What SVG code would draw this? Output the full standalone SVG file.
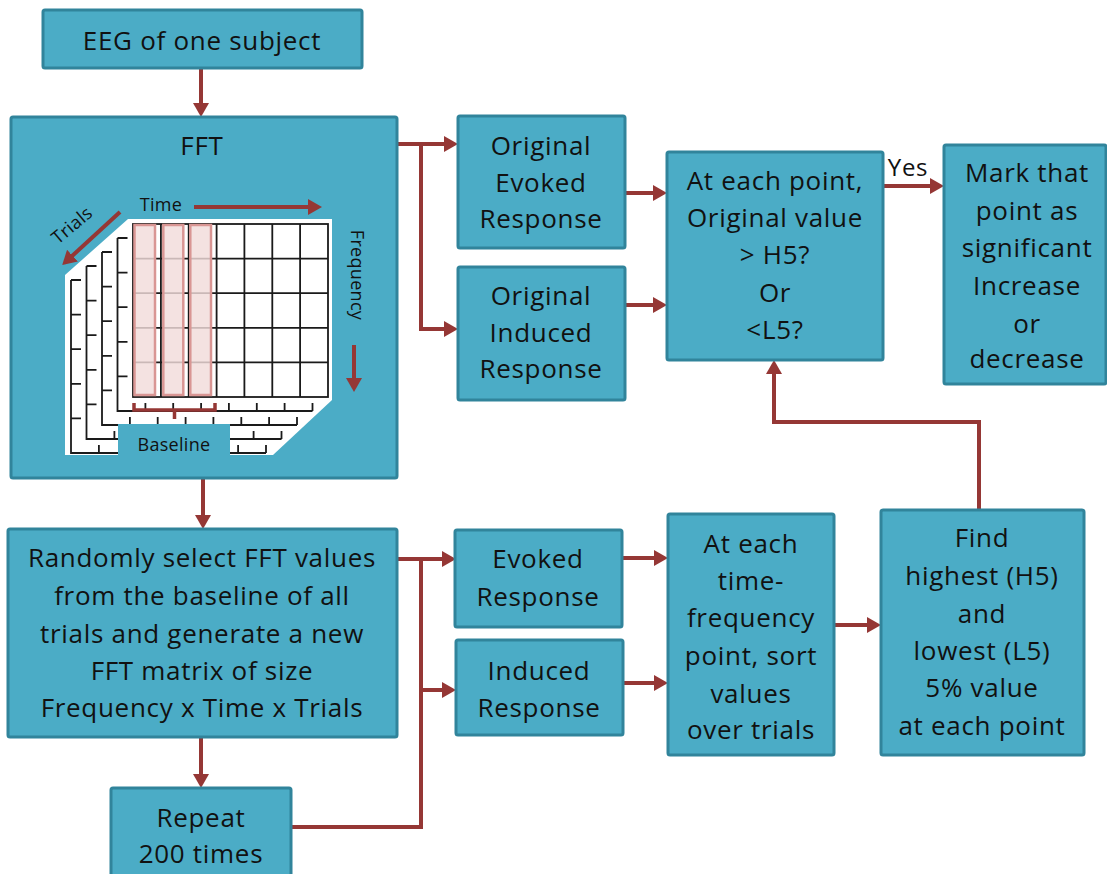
<svg xmlns="http://www.w3.org/2000/svg" width="1107" height="874" viewBox="0 0 1107 874">
  <style>
    .box { fill: #4BACC6; stroke: #31849B; stroke-width: 3; }
    .t { font-family: "Open Sans", Lato, "Liberation Sans", sans-serif; font-size: 26px; letter-spacing: 0.7px; fill: #111; text-anchor: middle; }
    .small { font-size: 18px; letter-spacing: 0.3px; }
    .conn { fill: none; stroke: #953735; stroke-width: 4; }
    .grid { fill: none; stroke: #1a1a1a; stroke-width: 1.8; }
    .pink { fill: #F2DCDB; fill-opacity: 0.82; stroke: #D99694; stroke-width: 2.5; }
  </style>
  <defs>
    <marker id="arrow" viewBox="0 0 14 16" refX="2" refY="8" markerWidth="14" markerHeight="16" markerUnits="userSpaceOnUse" orient="auto">
      <path d="M0,0 L14,8 L0,16 Z" fill="#953735"/>
    </marker>
  </defs>

  <rect width="1107" height="874" fill="#FFFFFF"/>

  <!-- connectors -->
  <g id="connectors">
    <path class="conn" d="M201,68 V105" marker-end="url(#arrow)"/>
    <path class="conn" d="M397,144 H446" marker-end="url(#arrow)"/>
    <path class="conn" d="M421,144 V329 H446" marker-end="url(#arrow)"/>
    <path class="conn" d="M625,193 H655" marker-end="url(#arrow)"/>
    <path class="conn" d="M625,305 H655" marker-end="url(#arrow)"/>
    <path class="conn" d="M883,186 H932" marker-end="url(#arrow)"/>
    <text class="t" x="908" y="176" style="font-size:24px">Yes</text>
    <path class="conn" d="M979,510 V422 H774 V372" marker-end="url(#arrow)"/>
    <path class="conn" d="M203,478 V517" marker-end="url(#arrow)"/>
    <path class="conn" d="M201,737 V776" marker-end="url(#arrow)"/>
    <path class="conn" d="M397,559 H444" marker-end="url(#arrow)"/>
    <path class="conn" d="M291,827 H421 V559"/>
    <path class="conn" d="M421,690 H444" marker-end="url(#arrow)"/>
    <path class="conn" d="M622,558 H656" marker-end="url(#arrow)"/>
    <path class="conn" d="M622,683 H656" marker-end="url(#arrow)"/>
    <path class="conn" d="M834,625 H869" marker-end="url(#arrow)"/>
  </g>

  <g id="eeg">
    <rect class="box" x="43" y="10" width="319" height="58" rx="2"/>
    <text class="t" x="202" y="50">EEG of one subject</text>
  </g>

  <g id="fft">
    <rect class="box" x="11" y="117" width="386" height="361" rx="2"/>
    <text class="t" x="202" y="155">FFT</text>
    <!-- white backdrop of the time-frequency stack -->
    <polygon points="128,219 332,219 332,400 273,455 65,455 65,275" fill="#FFFFFF"/>
    <!-- trial layers behind the front matrix -->
    <g class="grid">
      <path d="M71,280 V453 H266 M71,280 H81 M71,314.6 H81 M71,349.2 H81 M71,383.8 H81 M71,418.4 H81 M98.9,453 V445 M126.7,453 V445 M154.6,453 V445 M182.4,453 V445 M210.3,453 V445 M238.1,453 V445 M266,453 V445"/>
      <path d="M86.5,266 V439 H281.5 M86.5,266 H96.5 M86.5,300.6 H96.5 M86.5,335.2 H96.5 M86.5,369.8 H96.5 M86.5,404.4 H96.5 M114.4,439 V431 M142.2,439 V431 M170.1,439 V431 M197.9,439 V431 M225.8,439 V431 M253.6,439 V431 M281.5,439 V431"/>
      <path d="M102,252 V425 H297 M102,252 H112 M102,286.6 H112 M102,321.2 H112 M102,355.8 H112 M102,390.4 H112 M129.9,425 V417 M157.7,425 V417 M185.6,425 V417 M213.4,425 V417 M241.3,425 V417 M269.1,425 V417 M297,425 V417"/>
      <path d="M117.5,238 V411 H312.5 M117.5,238 H127.5 M117.5,272.6 H127.5 M117.5,307.2 H127.5 M117.5,341.8 H127.5 M117.5,376.4 H127.5 M145.4,411 V403 M173.2,411 V403 M201.1,411 V403 M228.9,411 V403 M256.8,411 V403 M284.6,411 V403 M312.5,411 V403"/>
    </g>
    <!-- front frequency x time matrix -->
    <rect x="133" y="224" width="195" height="173" fill="#FFFFFF"/>
    <g class="grid">
      <rect x="133" y="224" width="195" height="173"/>
      <path d="M160.9,224 V397 M188.7,224 V397 M216.6,224 V397 M244.4,224 V397 M272.3,224 V397 M300.1,224 V397"/>
      <path d="M133,258.6 H328 M133,293.2 H328 M133,327.8 H328 M133,362.4 H328"/>
    </g>
    <!-- baseline columns -->
    <rect class="pink" x="134.5" y="225" width="20.5" height="170"/>
    <rect class="pink" x="163.3" y="225" width="20" height="170"/>
    <rect class="pink" x="190.3" y="225" width="20.7" height="170"/>
    <path d="M134,403 V410 H215 V403 M174.5,410 V419" fill="none" stroke="#953735" stroke-width="3.5"/>
    <rect x="118" y="424" width="112" height="31" fill="#4BACC6"/>
    <text class="t small" x="174" y="451">Baseline</text>
    <!-- axis arrows -->
    <text class="t small" x="161" y="211">Time</text>
    <path class="conn" d="M194,207 H310" stroke-width="5" marker-end="url(#arrow)"/>
    <text class="t small" transform="translate(76,230) rotate(-40)">Trials</text>
    <path class="conn" d="M120,212 L71,257" stroke-width="5" marker-end="url(#arrow)"/>
    <text class="t small" transform="translate(351,275) rotate(90)">Frequency</text>
    <path class="conn" d="M354,345 V380" stroke-width="5" marker-end="url(#arrow)"/>
  </g>

  <g id="orig-evoked">
    <rect class="box" x="458" y="116" width="167" height="132" rx="2"/>
    <text class="t" x="541" y="155">Original</text>
    <text class="t" x="541" y="192">Evoked</text>
    <text class="t" x="541" y="228">Response</text>
  </g>

  <g id="orig-induced">
    <rect class="box" x="458" y="267" width="167" height="133" rx="2"/>
    <text class="t" x="541" y="305">Original</text>
    <text class="t" x="541" y="342">Induced</text>
    <text class="t" x="541" y="378">Response</text>
  </g>

  <g id="decision">
    <rect class="box" x="667" y="152" width="216" height="208" rx="2"/>
    <text class="t" x="775" y="190">At each point,</text>
    <text class="t" x="775" y="227">Original value</text>
    <text class="t" x="775" y="264">&gt; H5?</text>
    <text class="t" x="775" y="302">Or</text>
    <text class="t" x="775" y="339">&lt;L5?</text>
  </g>

  <g id="mark">
    <rect class="box" x="944" y="145" width="162" height="239" rx="2"/>
    <text class="t" x="1027" y="182">Mark that</text>
    <text class="t" x="1027" y="220">point as</text>
    <text class="t" x="1027" y="257">significant</text>
    <text class="t" x="1027" y="295">Increase</text>
    <text class="t" x="1027" y="333">or</text>
    <text class="t" x="1027" y="368">decrease</text>
  </g>

  <g id="random">
    <rect class="box" x="8" y="529" width="389" height="208" rx="2"/>
    <text class="t" x="202" y="567">Randomly select FFT values</text>
    <text class="t" x="202" y="605">from the baseline of all</text>
    <text class="t" x="202" y="643">trials and generate a new</text>
    <text class="t" x="202" y="680">FFT matrix of size</text>
    <text class="t" x="202" y="717">Frequency x Time x Trials</text>
  </g>

  <g id="repeat">
    <rect class="box" x="111" y="788" width="180" height="100" rx="2"/>
    <text class="t" x="201" y="827">Repeat</text>
    <text class="t" x="201" y="863">200 times</text>
  </g>

  <g id="evoked">
    <rect class="box" x="455" y="530" width="167" height="97" rx="2"/>
    <text class="t" x="538" y="568">Evoked</text>
    <text class="t" x="538" y="606">Response</text>
  </g>

  <g id="induced">
    <rect class="box" x="456" y="640" width="167" height="95" rx="2"/>
    <text class="t" x="539" y="680">Induced</text>
    <text class="t" x="539" y="717">Response</text>
  </g>

  <g id="sort">
    <rect class="box" x="668" y="514" width="166" height="241" rx="2"/>
    <text class="t" x="751" y="553">At each</text>
    <text class="t" x="751" y="590">time-</text>
    <text class="t" x="751" y="627">frequency</text>
    <text class="t" x="751" y="665">point, sort</text>
    <text class="t" x="751" y="703">values</text>
    <text class="t" x="751" y="739">over trials</text>
  </g>

  <g id="find">
    <rect class="box" x="881" y="510" width="203" height="245" rx="2"/>
    <text class="t" x="982" y="547">Find</text>
    <text class="t" x="982" y="585">highest (H5)</text>
    <text class="t" x="982" y="623">and</text>
    <text class="t" x="982" y="660">lowest (L5)</text>
    <text class="t" x="982" y="697">5% value</text>
    <text class="t" x="982" y="735">at each point</text>
  </g>
</svg>
